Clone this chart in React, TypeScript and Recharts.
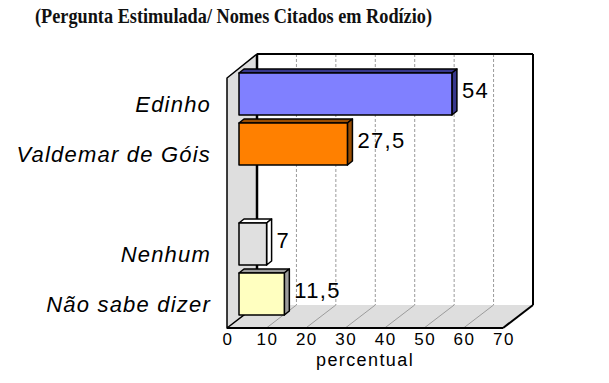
import React from 'react';
import { BarChart, Bar, XAxis, YAxis, Cell, LabelList, ReferenceArea } from 'recharts';

const categories = ['Edinho', 'Valdemar de Góis', '', 'Nenhum', 'Não sabe dizer'];
const values: (number | null)[] = [54, 27.5, null, 7, 11.5];
const frontColors = ['#8080ff', '#ff8000', '#ffffff', '#e0e0e0', '#ffffc0'];
const sideColors = ['#38388c', '#9a4d00', '#ffffff', '#9c9c9c', '#9c9c78'];
const xTicks = [0, 10, 20, 30, 40, 50, 60, 70];
const titleText = '(Pergunta Estimulada/ Nomes Citados em Rodízio)';
const axisTitle = 'percentual';

const data = categories.map((name, i) => ({ name, value: values[i] }));

const BACK = { dx: 18, dy: -15 };
const FRONT = { dx: -12, dy: 9 };
const BAR_DEPTH = { dx: 5, dy: -4 };

const Walls = (props: any) => {
  const { x, y, width, height } = props;
  const bx = x + BACK.dx;
  const bTop = y + BACK.dy;
  const bBottom = y + height + BACK.dy + 1;
  const fx = x + FRONT.dx;
  const fTop = y + FRONT.dy;
  const fBottom = y + height + FRONT.dy;
  const min = xTicks[0];
  const max = xTicks[xTicks.length - 1];
  const pos = (t: number) => ((t - min) / (max - min)) * width;
  return (
    <g>
      <rect x={bx} y={bTop} width={width} height={bBottom - bTop} fill="#ffffff" />
      {xTicks.slice(1, -1).map((t) => (
        <line key={'g' + t} x1={bx + pos(t)} x2={bx + pos(t)} y1={bTop} y2={bBottom} stroke="#9a9a9a" strokeWidth={1} strokeDasharray="3 2" />
      ))}
      <polygon
        points={`${bx},${bBottom} ${bx + width},${bBottom} ${fx + width},${fBottom} ${fx},${fBottom}`}
        fill="#dedede"
      />
      {xTicks.slice(1, -1).map((t) => (
        <line key={'f' + t} x1={bx + pos(t)} y1={bBottom} x2={fx + pos(t)} y2={fBottom} stroke="#8a8a8a" strokeWidth={0.8} />
      ))}
      <polygon
        points={`${bx},${bTop} ${bx},${bBottom} ${fx},${fBottom} ${fx},${fTop}`}
        fill="#dedede"
        stroke="#000"
        strokeWidth={1.5}
        strokeLinejoin="round"
      />
      <line x1={bx} y1={bTop} x2={bx + width} y2={bTop} stroke="#000" strokeWidth={2} />
      <line x1={bx + width} y1={bTop} x2={bx + width} y2={bBottom} stroke="#000" strokeWidth={2} />
      <line x1={bx + width} y1={bBottom} x2={fx + width} y2={fBottom} stroke="#000" strokeWidth={2} />
      <line x1={fx} y1={fBottom} x2={fx + width} y2={fBottom} stroke="#000" strokeWidth={2} />
      <line x1={bx} y1={bTop} x2={bx} y2={bBottom} stroke="#000" strokeWidth={2.5} />
    </g>
  );
};

const Bar3D = (props: any) => {
  const { x, y, width, height, index, fill } = props;
  if (!width || width <= 0) return null;
  const side = sideColors[index];
  const { dx, dy } = BAR_DEPTH;
  return (
    <g stroke="#000" strokeWidth={1.5} strokeLinejoin="round">
      <polygon points={`${x},${y} ${x + dx},${y + dy} ${x + width + dx},${y + dy} ${x + width},${y}`} fill={side} />
      <polygon points={`${x + width},${y} ${x + width + dx},${y + dy} ${x + width + dx},${y + height + dy} ${x + width},${y + height}`} fill={side} />
      <rect x={x} y={y} width={width} height={height} fill={fill} />
    </g>
  );
};

const ValueLabel = (props: any) => {
  const { x, y, width, height, value } = props;
  if (value == null) return null;
  return (
    <text
      x={x + width + 10}
      y={y + height / 2 + 4}
      fontFamily="Liberation Sans, Arial, sans-serif"
      fontSize={22}
      letterSpacing={1.3}
      fill="#000"
    >
      {String(value).replace('.', ',')}
    </text>
  );
};

const CategoryTick = (props: any) => {
  const { x, y, payload } = props;
  if (!payload.value) return null;
  return (
    <text
      x={x - 28}
      y={y + 18}
      textAnchor="end"
      fontFamily="Liberation Sans, Arial, sans-serif"
      fontStyle="italic"
      fontSize={22}
      letterSpacing={1.2}
      fill="#000"
    >
      {payload.value}
    </text>
  );
};

const NumberTick = (props: any) => {
  const { x, y, payload } = props;
  return (
    <text
      x={x + FRONT.dx + 1}
      y={y + 26}
      textAnchor="middle"
      fontFamily="Liberation Sans, Arial, sans-serif"
      fontSize={17}
      letterSpacing={1.5}
      fill="#000"
    >
      {payload.value}
    </text>
  );
};

const AxisTitle = (props: any) => {
  const { viewBox } = props;
  if (!viewBox) return null;
  return (
    <text
      x={viewBox.x + viewBox.width / 2 + FRONT.dx}
      y={viewBox.y + 47}
      textAnchor="middle"
      fontFamily="Liberation Sans, Arial, sans-serif"
      fontSize={18}
      letterSpacing={1.4}
      fill="#000"
    >
      {axisTitle}
    </text>
  );
};

export default function App() {
  return (
    <div style={{ position: 'absolute', left: 0, top: 0, width: 609, height: 383, background: '#fff' }}>
      <svg width={609} height={40} style={{ position: 'absolute', left: 0, top: 0 }}>
        <text
          x={35}
          y={23}
          fontFamily="Liberation Serif, serif"
          fontWeight="bold"
          fontSize={21}
          textLength={397}
          lengthAdjust="spacingAndGlyphs"
          fill="#111"
        >
          {titleText}
        </text>
      </svg>
      <div style={{ position: 'absolute', left: 0, top: 0 }}>
        <BarChart
          width={609}
          height={383}
          data={data}
          layout="vertical"
          margin={{ top: 69, right: 94, bottom: 0, left: 0 }}
        >
          <XAxis
            type="number"
            domain={[0, 70]}
            ticks={xTicks}
            axisLine={false}
            tickLine={false}
            tickSize={0}
            tickMargin={0}
            height={64}
            tick={<NumberTick />}
            interval={0}
            label={<AxisTitle />}
          />
          <YAxis
            type="category"
            dataKey="name"
            width={239}
            axisLine={false}
            tickLine={false}
            tickSize={0}
            tickMargin={0}
            tick={<CategoryTick />}
            interval={0}
          />
          <ReferenceArea x1={0} x2={70} ifOverflow="visible" shape={<Walls />} fill="none" stroke="none" />
          <Bar dataKey="value" barSize={42} isAnimationActive={false} shape={<Bar3D />}>
            {data.map((d, i) => (
              <Cell key={i} fill={frontColors[i]} />
            ))}
            <LabelList dataKey="value" content={<ValueLabel />} />
          </Bar>
        </BarChart>
      </div>
    </div>
  );
}
